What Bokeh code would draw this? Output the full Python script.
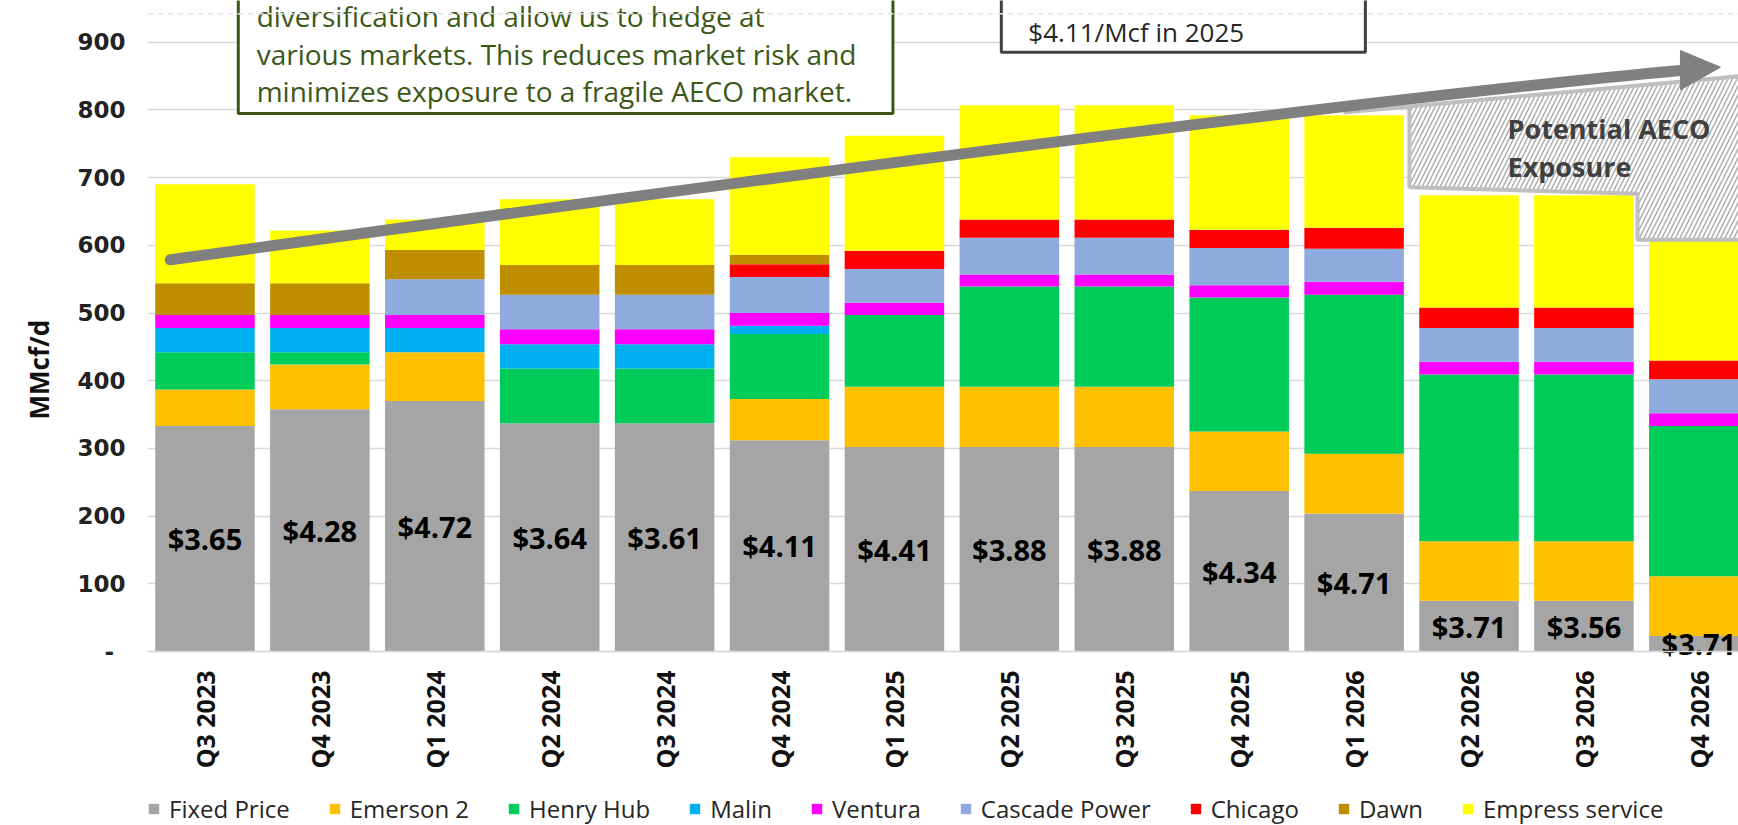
import math
from bokeh.plotting import figure
from bokeh.models import (Range1d, FixedTicker, Legend, LegendItem, Title,
                          ColumnDataSource, Span)
from bokeh.core.properties import value
from bokeh.embed import file_html
from bokeh.resources import INLINE

quarters = ["Q3 2023", "Q4 2023", "Q1 2024", "Q2 2024", "Q3 2024", "Q4 2024",
            "Q1 2025", "Q2 2025", "Q3 2025", "Q4 2025", "Q1 2026", "Q2 2026",
            "Q3 2026", "Q4 2026"]
fixed_price = [333, 358, 370, 337, 337, 312, 302, 302, 302, 237, 204, 75, 75, 23]
emerson_2 = [54, 66, 72, 0, 0, 61, 89, 89, 89, 88, 88, 88, 88, 88]
henry_hub = [55, 18, 0, 81, 81, 96, 106, 148, 148, 198, 235, 246, 246, 222]
malin = [36, 36, 36, 36, 36, 12, 0, 0, 0, 0, 0, 0, 0, 0]
ventura = [19, 19, 19, 22, 22, 19, 18, 18, 18, 18, 19, 19, 19, 19]
cascade_power = [0, 0, 53, 51, 51, 53, 50, 54, 54, 55, 49, 50, 50, 50]
chicago = [0, 0, 0, 0, 0, 19, 27, 27, 27, 27, 31, 30, 30, 28]
dawn = [47, 47, 43, 44, 44, 14, 0, 0, 0, 0, 0, 0, 0, 0]
empress_service = [146, 78, 45, 97, 97, 144, 170, 169, 169, 169, 166, 166, 166, 177]
price_labels = ["$3.65", "$4.28", "$4.72", "$3.64", "$3.61", "$4.11", "$4.41",
                "$3.88", "$3.88", "$4.34", "$4.71", "$3.71", "$3.56", "$3.71"]

series_names = ["Fixed Price", "Emerson 2", "Henry Hub", "Malin", "Ventura",
                "Cascade Power", "Chicago", "Dawn", "Empress service"]
series_keys = ["fixed", "emerson", "henry", "malin", "ventura", "cascade",
               "chicago", "dawn", "empress"]
colors = ["#a5a5a5", "#ffc000", "#00cc5a", "#00b0f0", "#ff00ff", "#8faadc",
          "#ff0000", "#bf8f00", "#ffff00"]

x_pos = list(range(len(quarters)))
source = ColumnDataSource(dict(
    x=x_pos, fixed=fixed_price, emerson=emerson_2, henry=henry_hub, malin=malin,
    ventura=ventura, cascade=cascade_power, chicago=chicago, dawn=dawn,
    empress=empress_service,
    label=price_labels, label_y=[v / 2 for v in fixed_price],
))

p = figure(width=1738, height=825, x_range=Range1d(-0.5, 13.345),
           y_range=Range1d(-257.0, 961.6), output_backend="svg",
           toolbar_location=None, min_border=0, min_border_left=147)
p.outline_line_color = None
p.background_fill_color = "white"

# grid & axes
p.xgrid.visible = False
p.ygrid.grid_line_color = "#d9d9d9"
p.ygrid.grid_line_width = 1.5
p.yaxis.ticker = FixedTicker(ticks=list(range(0, 1000, 100)))
p.yaxis.major_label_overrides = {0: "-\u2002"}
p.yaxis.axis_line_color = None
p.yaxis.major_tick_line_color = None
p.yaxis.minor_tick_line_color = None
p.yaxis.major_label_standoff = 16
p.yaxis.major_label_text_font = "DejaVu Sans"
p.yaxis.major_label_text_font_style = "bold"
p.yaxis.major_label_text_font_size = "23px"
p.yaxis.major_label_text_color = "#222222"

p.xaxis.fixed_location = 0
p.xaxis.ticker = FixedTicker(ticks=x_pos)
p.xaxis.major_label_overrides = {i: q for i, q in enumerate(quarters)}
p.xaxis.major_label_orientation = math.pi / 2
p.xaxis.axis_line_color = "#d9d9d9"
p.xaxis.axis_line_width = 1.5
p.xaxis.major_tick_line_color = None
p.xaxis.minor_tick_line_color = None
p.xaxis.major_label_standoff = 13
p.xaxis.major_label_text_font = "Open Sans"
p.xaxis.major_label_text_font_style = "bold"
p.xaxis.major_label_text_font_size = "25px"
p.xaxis.major_label_text_color = "#111111"

p.add_layout(Span(location=942, dimension="width", line_color="#e3e3e3",
                  line_dash="6 4", line_width=1.5))

renderers = p.vbar_stack(series_keys, x="x", width=0.866, fill_color=colors,
                         line_color=None, source=source)

p.text(x="x", y="label_y", text="label", source=source,
       text_font=value("Open Sans"), text_font_style="bold",
       text_font_size="29px", text_align="center", text_baseline="middle",
       text_color="black")

# Potential AECO exposure hatched area
p.patch([10.481, 13.5, 13.5, 12.466, 12.466, 10.481],
        [805, 852, 608.1, 608.1, 676.1, 685.8],
        fill_color="white", line_color="#bfbfbf", line_width=4,
        hatch_pattern="/", hatch_color="#b0b0b0", hatch_scale=9,
        hatch_weight=1.6)
p.line([9.907, 10.481], [796.2, 805], line_color="#bfbfbf", line_width=4)
p.text(x=[11.335, 11.335], y=[773.0, 716.8],
       text=["Potential AECO", "Exposure"], text_font=value("Open Sans"),
       text_font_style="bold", text_font_size="27px", text_color="#404040",
       text_align="left", text_baseline="alphabetic")

# text boxes
p.quad(left=[0.290], right=[5.987], bottom=[794.7], top=[1100],
       fill_color="white", line_color="#3b5716", line_width=3)
p.text(x=[0.45, 0.45, 0.45], y=[939.4, 883.3, 827.2],
       text=["diversification and allow us to hedge at",
             "various markets. This reduces market risk and",
             "minimizes exposure to a fragile AECO market."],
       text_font=value("Open Sans"), text_font_size="28px",
       text_color="#3b5716", text_align="left", text_baseline="alphabetic")
p.quad(left=[6.930], right=[10.098], bottom=[885.2], top=[1100],
       fill_color="white", line_color="#404040", line_width=3)
p.text(x=[7.165], y=[914.8], text=["$4.11/Mcf in 2025"],
       text_font=value("Open Sans"), text_font_size="26px",
       text_color="#262626", text_align="left", text_baseline="alphabetic")

# growth arrow
p.quadratic(x0=[-0.302], y0=[578.6], x1=[12.84], y1=[858.2], cx=[9.254],
            cy=[802.4], line_color="#808080", line_width=11, line_cap="round")
p.patch([12.84, 13.188, 12.84], [887.7, 863.1, 829.7], fill_color="#808080",
        line_color="#808080")

# y-axis title
p.add_layout(Title(text="MMcf/d", align="left", offset=406, standoff=36,
                   text_font="Open Sans", text_font_style="bold",
                   text_font_size="26px", text_color="#111111"), "left")

legend = Legend(items=[LegendItem(label=n, renderers=[r])
                       for n, r in zip(series_names, renderers)],
                orientation="horizontal", location=(0, 0),
                padding=0, margin=0, spacing=38, glyph_width=13,
                glyph_height=13, label_standoff=9,
                label_text_font="Open Sans", label_text_font_size="24px",
                label_text_color="#262626", border_line_color=None,
                background_fill_alpha=0)
p.add_layout(legend)

open("out.html", "w").write(file_html(p, INLINE))
